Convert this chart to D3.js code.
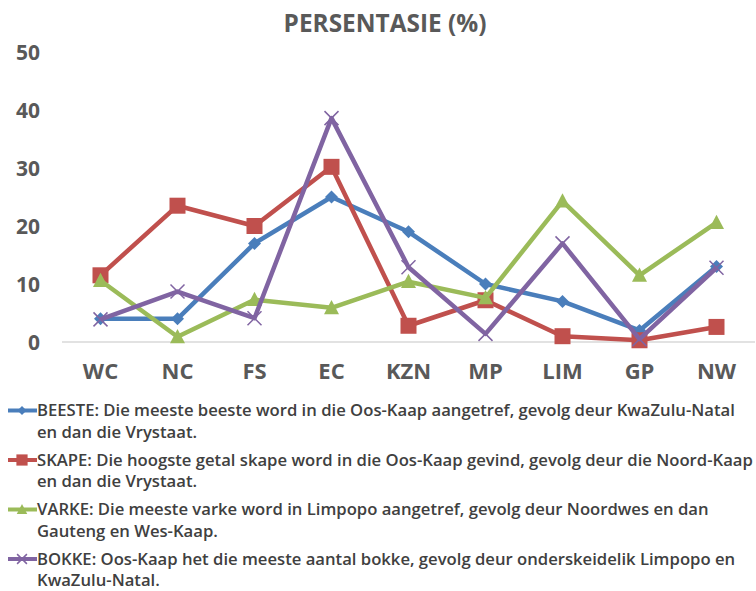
<!DOCTYPE html>
<html><head><meta charset="utf-8">
<script src="https://cdn.jsdelivr.net/npm/d3@7"></script>
<style>
body{margin:0;background:#fff;}
svg{display:block;}
text{font-family:"Open Sans","DejaVu Sans",sans-serif;}
</style></head>
<body>
<svg id="chart" width="756" height="591"></svg>
<script>
const categories = ["WC","NC","FS","EC","KZN","MP","LIM","GP","NW"];
const beeste = [4, 4, 17, 25, 19, 10, 7, 2, 13];
const skape  = [11.5, 23.5, 20, 30.2, 2.8, 7.2, 1, 0.3, 2.6];
const varke  = [10.6, 0.9, 7.3, 5.9, 10.4, 7.6, 24.3, 11.5, 20.6];
const bokke  = [3.9, 8.7, 4.1, 38.6, 12.9, 1.4, 17, 0.5, 12.8];
const yTicks = [0, 10, 20, 30, 40, 50];
const title = "PERSENTASIE (%)";
const legendLines = [
  ["BEESTE: Die meeste beeste word in die Oos-Kaap aangetref, gevolg deur KwaZulu-Natal", "en dan die Vrystaat."],
  ["SKAPE: Die hoogste getal skape word in die Oos-Kaap gevind, gevolg deur die Noord-Kaap", "en dan die Vrystaat."],
  ["VARKE: Die meeste varke word in Limpopo aangetref, gevolg deur Noordwes en dan", "Gauteng en Wes-Kaap."],
  ["BOKKE: Oos-Kaap het die meeste aantal bokke, gevolg deur onderskeidelik Limpopo en", "KwaZulu-Natal."]
];

const series = [
  {name:"BEESTE", values:beeste, color:"#4A7EBB", marker:"diamond"},
  {name:"SKAPE", values:skape, color:"#C0504D", marker:"square"},
  {name:"VARKE", values:varke, color:"#9BBB59", marker:"triangle"},
  {name:"BOKKE", values:bokke, color:"#8064A2", marker:"x"}
];

const svg = d3.select("#chart");
const x = d3.scaleBand().domain(categories).range([62, 755]);
const y = d3.scaleLinear().domain([0, 50]).range([342, 52]);
const cx = c => x(c) + x.bandwidth()/2;

// title, sized to span like the reference
const tt = svg.append("text").attr("x", 385).attr("y", 32).attr("text-anchor","middle")
  .attr("font-size", 20).attr("font-weight", 700).attr("fill", "#595959").text(title);
const tw = tt.node().getComputedTextLength();
tt.attr("font-size", 20 * 203 / tw);

// baseline
svg.append("line").attr("x1", 62).attr("x2", 755).attr("y1", y(0)).attr("y2", y(0))
  .attr("stroke", "#D9D9D9").attr("stroke-width", 1.5);

// y axis labels
const yAxis = d3.axisLeft(y).tickValues(yTicks).tickSize(0).tickPadding(0);
const gy = svg.append("g").attr("transform", "translate(40,1)").call(yAxis);
gy.select(".domain").remove();
gy.selectAll("text").attr("font-size", 21).attr("font-weight", 700).attr("fill", "#595959")
  .attr("font-family", '"Open Sans","DejaVu Sans",sans-serif');

// x axis labels
const xAxis = d3.axisBottom(x).tickSize(0).tickPadding(0);
const gx = svg.append("g").attr("transform", `translate(0,${y(0)+21})`).call(xAxis);
gx.select(".domain").remove();
gx.selectAll("text").attr("font-size", 22).attr("font-weight", 700).attr("fill", "#595959")
  .attr("font-family", '"Open Sans","DejaVu Sans",sans-serif');

const line = d3.line().x((d,i) => cx(categories[i])).y(d => y(d));

function drawMarker(g, type, color, px, py, scale){
  const s = scale || 1;
  if (type === "diamond") {
    const r = 6.5*s;
    g.append("path").attr("d", `M${px},${py-r}L${px+r},${py}L${px},${py+r}L${px-r},${py}Z`).attr("fill", color);
  } else if (type === "square") {
    const r = 8*s;
    g.append("rect").attr("x", px-r).attr("y", py-r).attr("width", 2*r).attr("height", 2*r).attr("fill", color);
  } else if (type === "triangle") {
    const r = 7.5*s;
    g.append("path").attr("d", `M${px},${py-r*1.05}L${px+r},${py+r*0.85}L${px-r},${py+r*0.85}Z`).attr("fill", color);
  } else {
    const r = 7*s;
    g.append("path").attr("d", `M${px-r},${py-r}L${px+r},${py+r}M${px+r},${py-r}L${px-r},${py+r}`)
      .attr("stroke", color).attr("stroke-width", 1.5).attr("fill", "none");
  }
}

series.forEach(s => {
  const g = svg.append("g");
  g.append("path").datum(s.values).attr("d", line).attr("fill", "none")
    .attr("stroke", s.color).attr("stroke-width", 4.5).attr("stroke-linejoin", "round");
  s.values.forEach((v, i) => drawMarker(g, s.marker, s.color, cx(categories[i]), y(v)));
});

// legend
const legG = svg.append("g");
series.forEach((s, i) => {
  const base = 416 + i*49.5;
  const ly = base - 5.5;
  const g = legG.append("g");
  g.append("line").attr("x1", 8).attr("x2", 37).attr("y1", ly).attr("y2", ly)
    .attr("stroke", s.color).attr("stroke-width", 4);
  drawMarker(g, s.marker, s.color, 22, ly, 0.7);
  legendLines[i].forEach((t, j) => {
    g.append("text").attr("class", "lt").attr("x", 37).attr("y", base + j*21.5)
      .attr("font-size", 14.2).attr("font-weight", 600).attr("fill", "#404040").text(t);
  });
});
// size legend text so the lines span like the reference while staying inside the frame
const firstW = legG.select("text.lt").node().getComputedTextLength();
legG.selectAll("text.lt").attr("font-size", 14.2 * 698 / firstW);
</script>
</body></html>
